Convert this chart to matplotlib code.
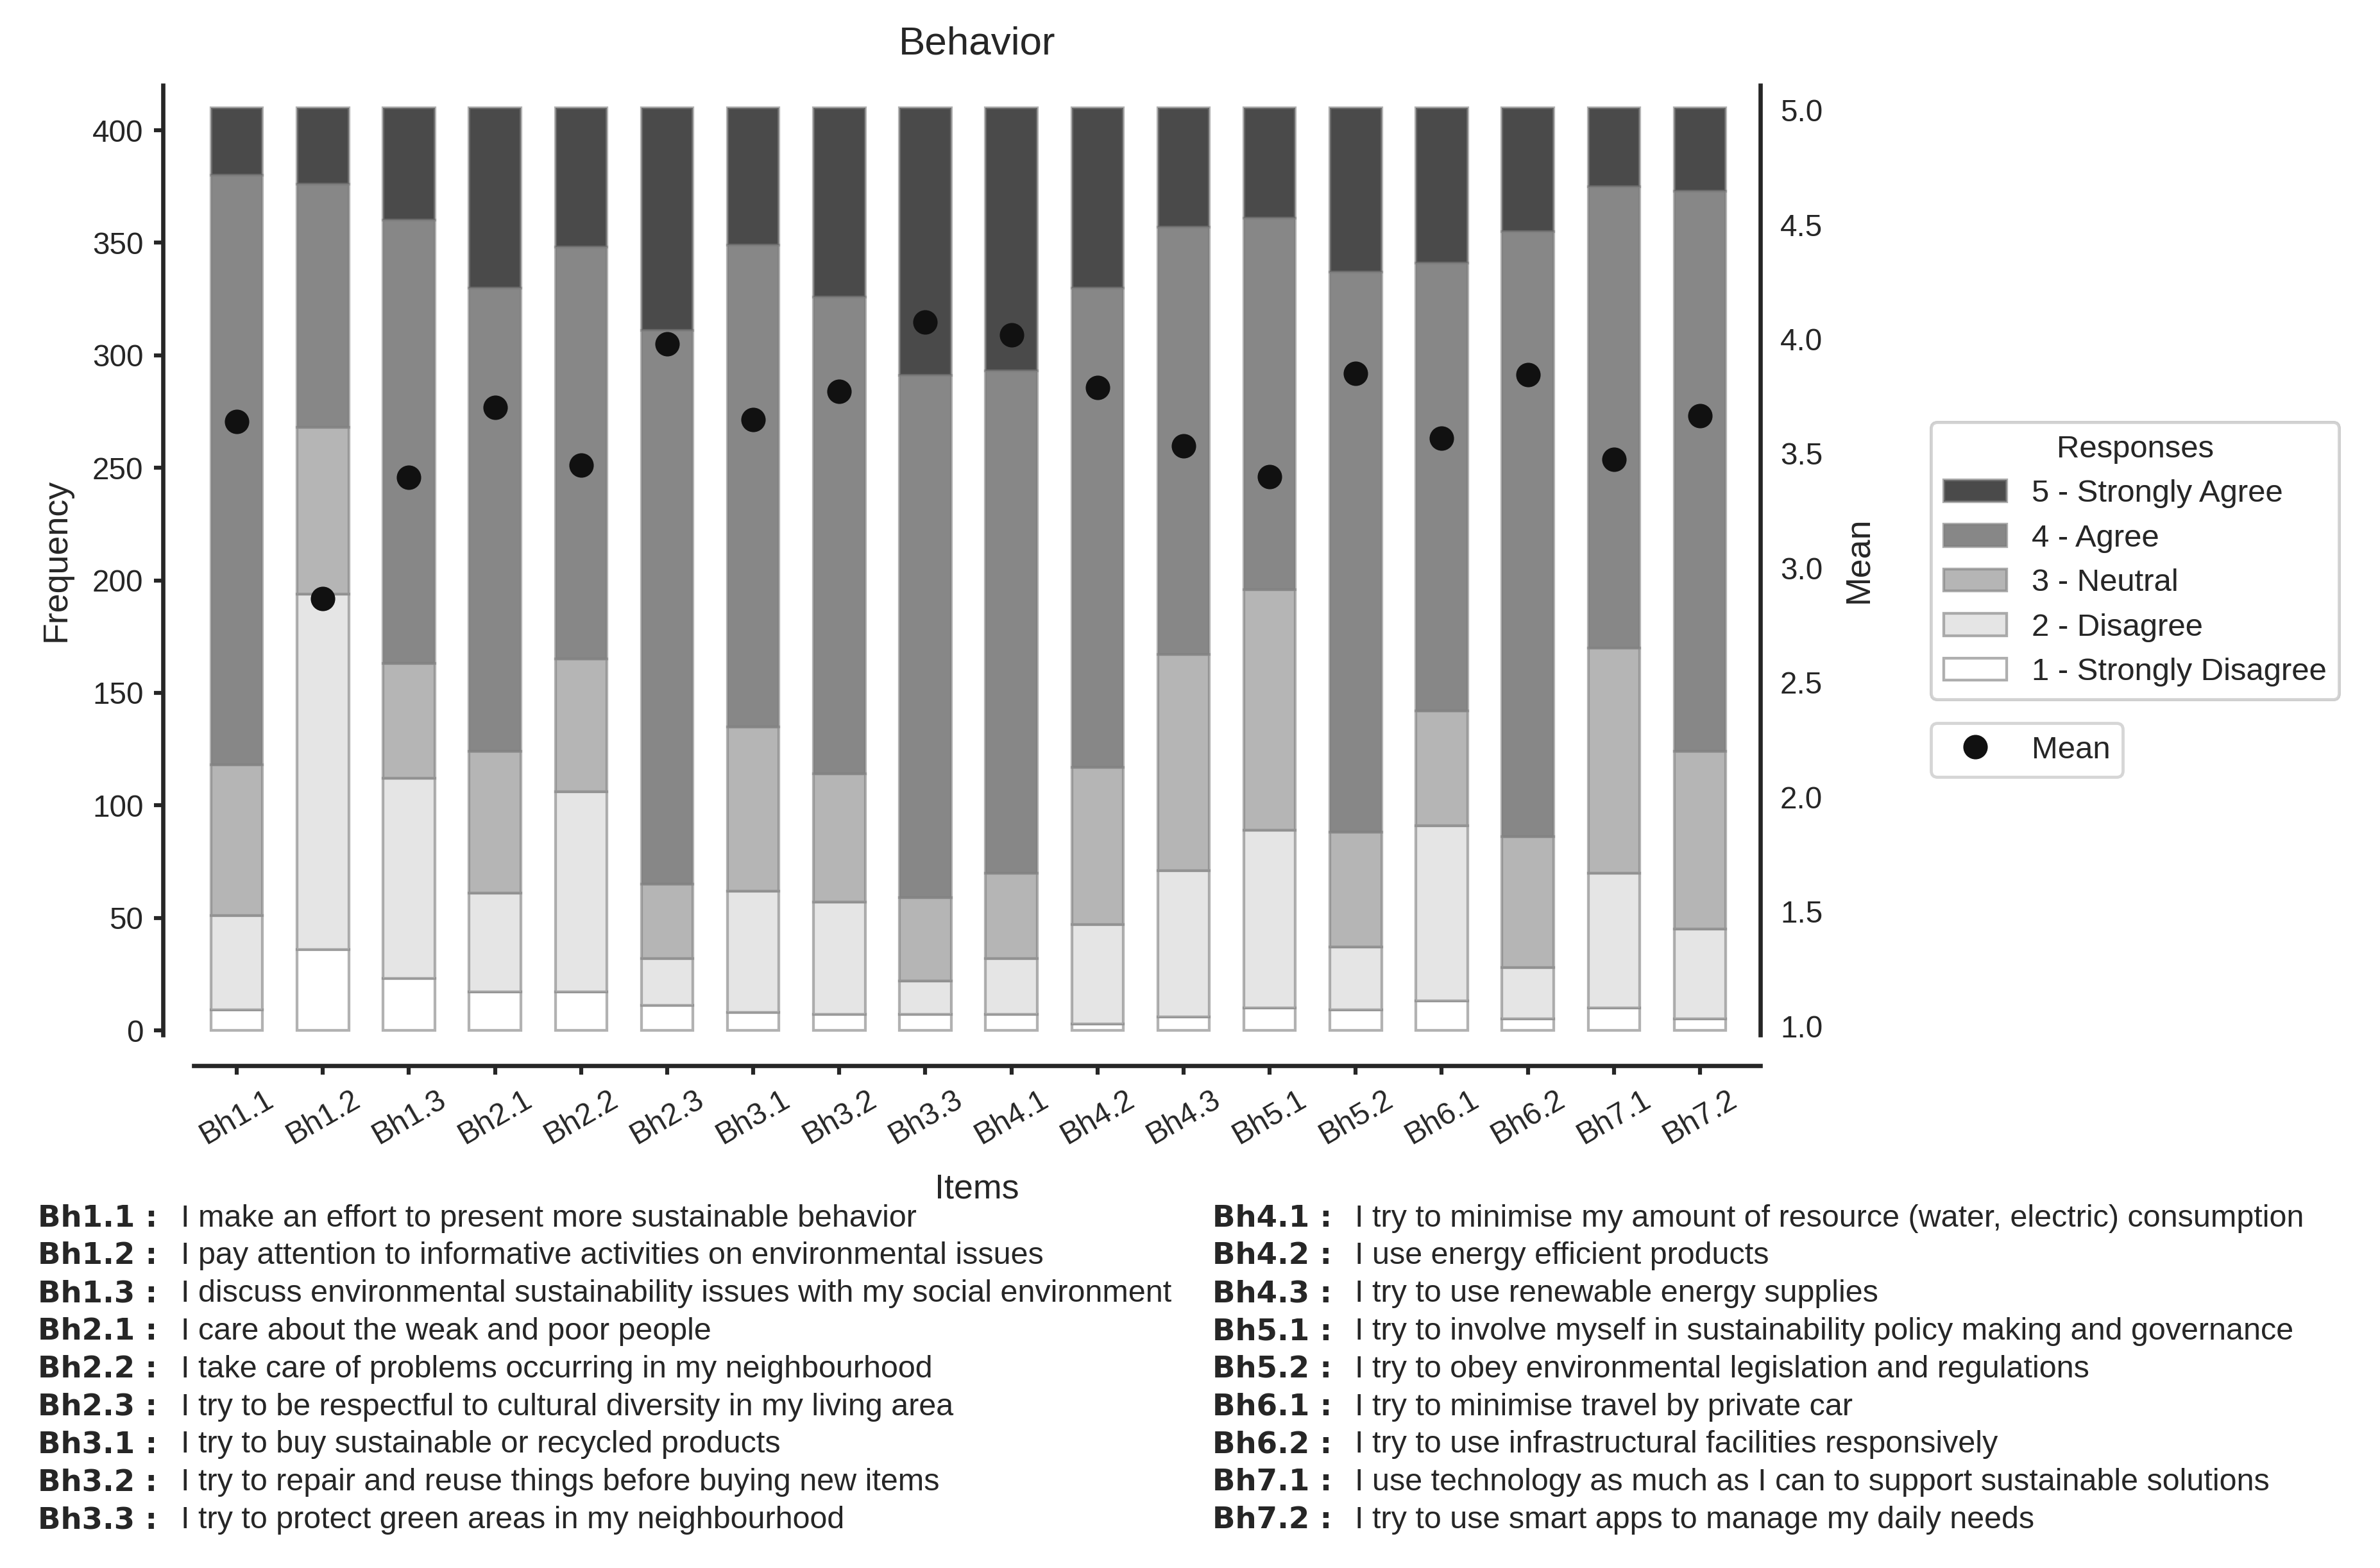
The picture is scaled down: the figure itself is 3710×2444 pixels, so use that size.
import numpy as np
import matplotlib
matplotlib.use("Agg")
import matplotlib.pyplot as plt
from matplotlib.lines import Line2D
from matplotlib.patches import Patch
import seaborn as sns

items = ["Bh1.1", "Bh1.2", "Bh1.3", "Bh2.1", "Bh2.2", "Bh2.3", "Bh3.1", "Bh3.2", "Bh3.3",
         "Bh4.1", "Bh4.2", "Bh4.3", "Bh5.1", "Bh5.2", "Bh6.1", "Bh6.2", "Bh7.1", "Bh7.2"]

# response counts per item (n = 410)
strongly_disagree = [9, 36, 23, 17, 17, 11, 8, 7, 7, 7, 3, 6, 10, 9, 13, 5, 10, 5]
disagree = [42, 158, 89, 44, 89, 21, 54, 50, 15, 25, 44, 65, 79, 28, 78, 23, 60, 40]
neutral = [67, 74, 51, 63, 59, 33, 73, 57, 37, 38, 70, 96, 107, 51, 51, 58, 100, 79]
agree = [262, 108, 197, 206, 183, 246, 214, 212, 232, 223, 213, 190, 165, 249, 199, 269, 205, 249]
strongly_agree = [30, 34, 50, 80, 62, 99, 61, 84, 119, 117, 80, 53, 49, 73, 69, 55, 35, 37]

response_labels = ["1 - Strongly Disagree", "2 - Disagree", "3 - Neutral", "4 - Agree", "5 - Strongly Agree"]
response_colors = ["#ffffff", "#e5e5e5", "#b5b5b5", "#878787", "#4a4a4a"]

descriptions = [
    "I make an effort to present more sustainable behavior",
    "I pay attention to informative activities on environmental issues",
    "I discuss environmental sustainability issues with my social environment",
    "I care about the weak and poor people",
    "I take care of problems occurring in my neighbourhood",
    "I try to be respectful to cultural diversity in my living area",
    "I try to buy sustainable or recycled products",
    "I try to repair and reuse things before buying new items",
    "I try to protect green areas in my neighbourhood",
    "I try to minimise my amount of resource (water, electric) consumption",
    "I use energy efficient products",
    "I try to use renewable energy supplies",
    "I try to involve myself in sustainability policy making and governance",
    "I try to obey environmental legislation and regulations",
    "I try to minimise travel by private car",
    "I try to use infrastructural facilities responsively",
    "I use technology as much as I can to support sustainable solutions",
    "I try to use smart apps to manage my daily needs",
]

sns.set_style("ticks")
plt.rcParams['font.family'] = ['Liberation Sans', 'DejaVu Sans']
plt.rcParams['axes.linewidth'] = 1.4
plt.rcParams['xtick.major.width'] = 1.3
plt.rcParams['ytick.major.width'] = 1.3
plt.rcParams['xtick.major.size'] = 3
plt.rcParams['ytick.major.size'] = 3

counts = np.array([strongly_disagree, disagree, neutral, agree, strongly_agree])
scores = np.arange(1, 6).reshape(-1, 1)
means = (counts * scores).sum(axis=0) / counts.sum(axis=0)

DPI = 343
fig = plt.figure(figsize=(3711 / DPI, 2444 / DPI), dpi=DPI)
ax = fig.add_axes([0.0814, 0.340, 0.658, 0.6056])
ax2 = ax.twinx()
sns.despine(ax=ax, offset=10)
sns.despine(ax=ax2, left=True, right=False, bottom=True)

x = np.arange(len(items))
edge = (0.5, 0.5, 0.5, 0.6)
bottom = np.zeros(len(items))
for row, lab, col in zip(counts, response_labels, response_colors):
    ax.bar(x, row, bottom=bottom, width=0.6, color=col, edgecolor=edge, linewidth=0.9, label=lab)
    bottom += row

ax.set_xlim(-0.5, 17.7)
ax.set_ylim(-2, 420)
ax.set_xticks(x)
ax.set_xticklabels(items)
ax.tick_params(axis='x', labelrotation=30, labelsize=10)
ax.tick_params(axis='y', labelsize=10)
ax.set_ylabel("Frequency", fontsize=11.3, labelpad=6.5)
ax.set_xlabel("Items", fontsize=11.3, labelpad=7.5)
ax.set_title("Behavior", fontsize=13, pad=10.2)

ax2.plot(x, means, 'o', color="#111111", markersize=7, label="Mean")
ax2.set_ylim(0.962, 5.108)
ax2.set_yticks(np.arange(1.0, 5.01, 0.5))
ax2.tick_params(axis='y', labelsize=10)
ax2.set_ylabel("Mean", fontsize=11.3, labelpad=6.5)

handles = [Patch(facecolor=c, edgecolor=edge, linewidth=0.9) for c in response_colors][::-1]
leg1 = fig.legend(handles, response_labels[::-1], title="Responses", fontsize=10.3, title_fontsize=10.3,
                  loc="upper left", bbox_to_anchor=(0.8111, 0.7308), borderaxespad=0, frameon=True)
fig.add_artist(leg1)
mean_handle = Line2D([], [], marker='o', linestyle='none', color="#111111", markersize=7)
fig.legend([mean_handle], ["Mean"], fontsize=10.3, loc="upper left", bbox_to_anchor=(0.8111, 0.5389),
           borderaxespad=0, frameon=True)

# item descriptions in two columns below the chart
row_y = 1 - 1911.7 / 2444
step = 58.8 / 2444
for i, (item, desc) in enumerate(zip(items, descriptions)):
    col = i // 9
    r = i % 9
    lx = 0.0159 if col == 0 else 0.5093
    dx = 0.0760 if col == 0 else 0.5691
    yy = row_y - r * step
    fig.text(lx, yy, item + " :", fontsize=9.8, fontweight='bold', family='DejaVu Sans',
             va='baseline', color="#262626")
    fig.text(dx, yy, desc, fontsize=10.2, va='baseline', color="#262626")

fig.savefig("out.png", dpi=DPI)
